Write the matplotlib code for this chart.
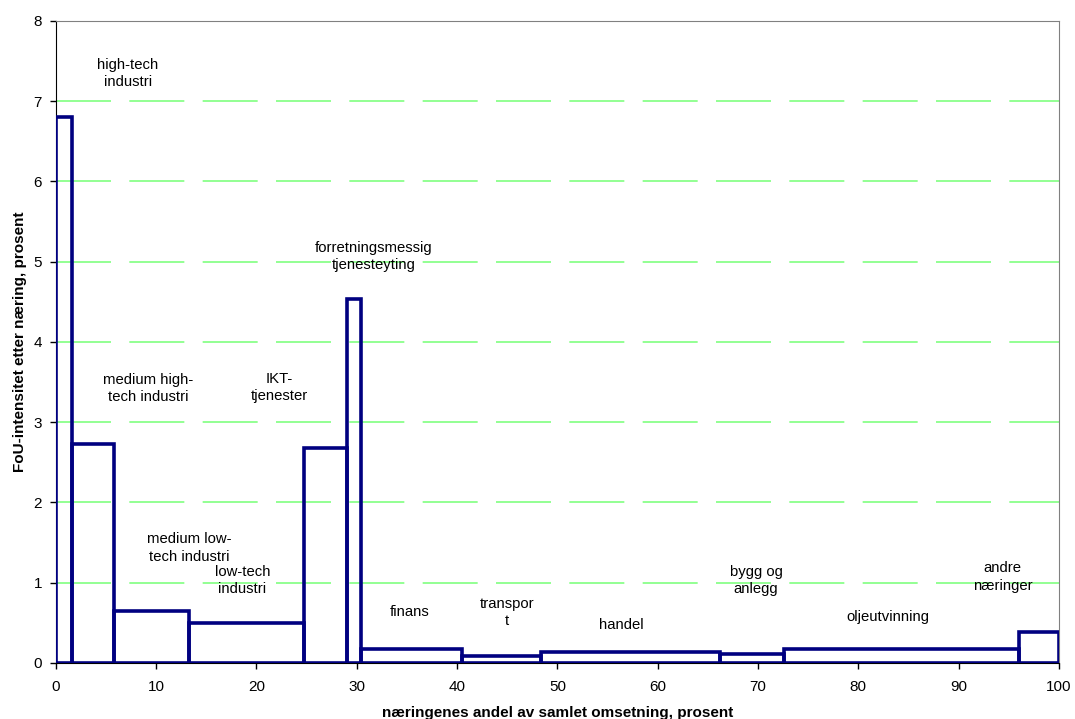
import matplotlib.pyplot as plt
import numpy as np

plt.rcParams['font.family'] = ['Liberation Sans', 'DejaVu Sans']

# venstre kant (andel av omsetning, kumulativ) og FoU-intensitet per naering
kanter = [0, 1.63, 5.75, 13.3, 24.7, 29.0, 30.4, 40.45, 48.4, 66.2, 72.6, 96.0, 100]
intensitet = [6.8, 2.73, 0.65, 0.5, 2.68, 4.53, 0.17, 0.08, 0.13, 0.11, 0.17, 0.39]

navn = ["high-tech\nindustri", "medium high-\ntech industri", "medium low-\ntech industri",
        "low-tech\nindustri", "IKT-\ntjenester", "forretningsmessig\ntjenesteyting",
        "finans", "transpor\nt", "handel", "bygg og\nanlegg", "oljeutvinning",
        "andre\nnæringer"]
navn_x = [7.2, 9.2, 13.3, 18.6, 22.3, 31.7, 35.3, 45.0, 56.4, 69.8, 83.0, 94.4]
navn_y = [7.34, 3.42, 1.43, 1.03, 3.43, 5.06, 0.64, 0.63, 0.47, 1.03, 0.57, 1.07]

kanter = np.array(kanter)
bredde = np.diff(kanter)

fig = plt.figure(figsize=(10.75, 7.19), dpi=100)
ax = fig.add_axes([0.052, 0.078, 0.933, 0.893])

# gronne stiplede hjelpelinjer
for y in range(1, 8):
    ax.axhline(y, color='#80ff80', lw=1.2, dashes=(33, 11), zorder=1)

ax.bar(kanter[:-1], intensitet, width=bredde, align='edge', fill=False,
       edgecolor='#000080', linewidth=2.6, zorder=3)

for t, x, y in zip(navn, navn_x, navn_y):
    ax.text(x, y, t, ha='center', va='center', fontsize=10.7, linespacing=1.3, zorder=4)

ax.set_xlim(0, 100)
ax.set_ylim(0, 8)
ax.set_xticks(range(0, 101, 10))
ax.set_yticks(range(0, 9))
ax.tick_params(direction='out', length=4, labelsize=11, width=1)
ax.tick_params(axis='x', pad=8)
ax.tick_params(axis='y', pad=6)
ax.set_xlabel("næringenes andel av samlet omsetning, prosent", fontsize=11, fontweight='bold', labelpad=9)
ax.set_ylabel("FoU-intensitet etter næring, prosent", fontsize=11, fontweight='bold', labelpad=5)

for s in ['top', 'right']:
    ax.spines[s].set_color('#808080')
for s in ['left', 'bottom']:
    ax.spines[s].set_color('black')

plt.savefig('out.png', dpi=100)
